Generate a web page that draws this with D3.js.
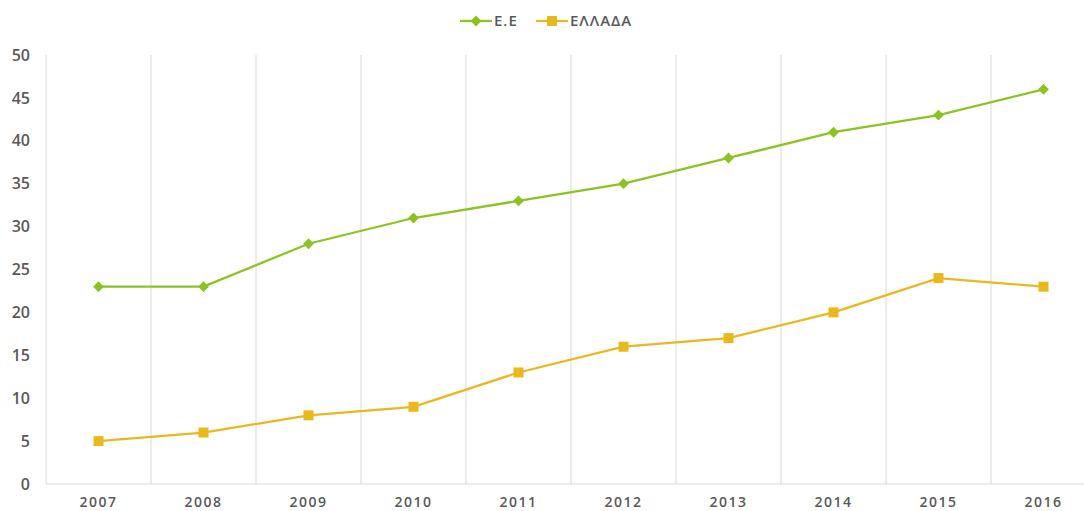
<!DOCTYPE html>
<html lang="en">
    <head>
        <meta charset="UTF-8" />
        <title>E.E vs ΕΛΛΑΔΑ</title>
        <style>
            body {
                margin: 0;
                background: #fff;
            }
            text {
                font-family: 'Open Sans', sans-serif;
                fill: #595959;
                font-weight: 600;
            }
            .grid line {
                stroke: #d9d9d9;
                stroke-width: 1px;
            }
        </style>
    </head>
    <body>
        <svg width="1084" height="511"></svg>
        <script src="https://d3js.org/d3.v7.min.js"></script>
        <script>
            const years = ['2007', '2008', '2009', '2010', '2011', '2012', '2013', '2014', '2015', '2016'];
            const euValues = [23, 23, 28, 31, 33, 35, 38, 41, 43, 46];
            const greeceValues = [5, 6, 8, 9, 13, 16, 17, 20, 24, 23];
            const yTicks = [0, 5, 10, 15, 20, 25, 30, 35, 40, 45, 50];

            const series = [
                { name: 'Ε.Ε', values: euValues, color: '#8cc321', marker: 'diamond' },
                { name: 'ΕΛΛΑΔΑ', values: greeceValues, color: '#e8b81c', marker: 'square' },
            ];

            const svg = d3.select('svg');
            const plotLeft = 46,
                plotRight = 1096,
                plotTop = 55,
                plotBottom = 484;

            const x = d3.scaleBand().domain(years).range([plotLeft, plotRight]);
            const y = d3.scaleLinear().domain([0, 50]).range([plotBottom, plotTop]);

            // vertical gridlines at category boundaries
            const bounds = years.map((d) => x(d)).concat([plotRight]);
            svg.append('g')
                .attr('class', 'grid')
                .selectAll('line')
                .data(bounds)
                .enter()
                .append('line')
                .attr('x1', (d) => d)
                .attr('x2', (d) => d)
                .attr('y1', plotTop)
                .attr('y2', plotBottom);

            svg.append('line')
                .attr('x1', plotLeft)
                .attr('x2', plotRight)
                .attr('y1', plotBottom)
                .attr('y2', plotBottom)
                .attr('stroke', '#d9d9d9');

            // y labels
            svg.append('g')
                .selectAll('text')
                .data(yTicks)
                .enter()
                .append('text')
                .attr('x', 30)
                .attr('y', (d) => y(d))
                .attr('dy', '0.35em')
                .attr('text-anchor', 'end')
                .style('font-size', '16px')
                .text((d) => d);

            // x labels
            svg.append('g')
                .selectAll('text')
                .data(years)
                .enter()
                .append('text')
                .attr('x', (d) => x(d) + x.bandwidth() / 2)
                .attr('y', 502)
                .attr('dy', '0.35em')
                .attr('text-anchor', 'middle')
                .style('font-size', '14px')
                .style('letter-spacing', '1.5px')
                .text((d) => d);

            const line = d3
                .line()
                .x((d, i) => x(years[i]) + x.bandwidth() / 2)
                .y((d) => y(d));

            const diamond = d3.symbol().type(d3.symbolDiamond2 || d3.symbolDiamond).size(75);
            const square = d3.symbol().type(d3.symbolSquare).size(100);

            series.forEach((s) => {
                svg.append('path')
                    .datum(s.values)
                    .attr('fill', 'none')
                    .attr('stroke', s.color)
                    .attr('stroke-width', 2.25)
                    .attr('d', line);

                svg.append('g')
                    .selectAll('path')
                    .data(s.values)
                    .enter()
                    .append('path')
                    .attr('transform', (d, i) => `translate(${x(years[i]) + x.bandwidth() / 2},${y(d)})`)
                    .attr('d', s.marker === 'diamond' ? diamond : square)
                    .attr('fill', s.color);
            });

            // legend
            const legend = svg.append('g').attr('transform', 'translate(460,21)');
            const items = [
                { s: series[0], x: 0 },
                { s: series[1], x: 76 },
            ];
            items.forEach((it) => {
                const g = legend.append('g').attr('transform', `translate(${it.x},0)`);
                g.append('line')
                    .attr('x1', 0)
                    .attr('x2', 32)
                    .attr('stroke', it.s.color)
                    .attr('stroke-width', 2.25);
                g.append('path')
                    .attr('transform', 'translate(16,0)')
                    .attr('d', it.s.marker === 'diamond' ? diamond : square)
                    .attr('fill', it.s.color);
                g.append('text')
                    .attr('x', 34)
                    .attr('dy', '0.35em')
                    .style('font-size', '15px')
                    .style('letter-spacing', '1px')
                    .text(it.s.name);
            });
        </script>
    </body>
</html>
